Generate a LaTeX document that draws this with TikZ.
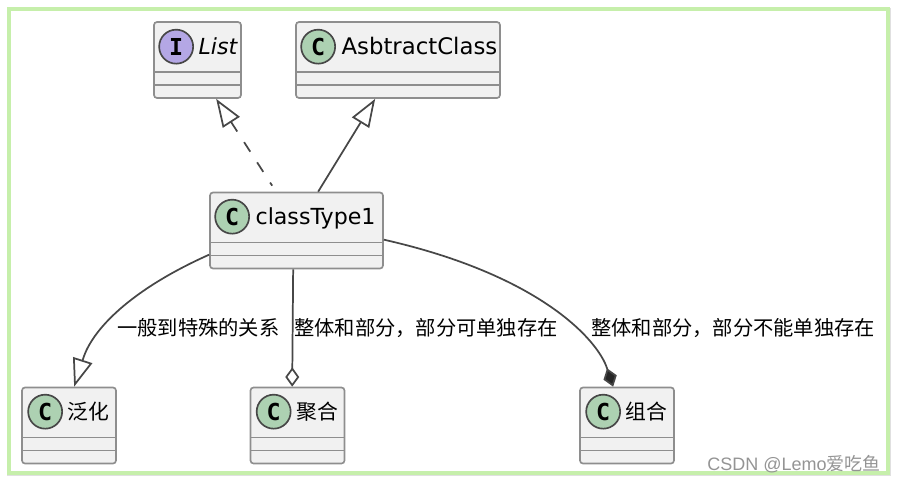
\documentclass[tikz,border=0pt]{standalone}
\usepackage{fontspec}
\setmainfont{DejaVu Sans}
\setmonofont{DejaVu Sans Mono}
\newfontfamily\cjk{Noto Sans CJK SC}
\usetikzlibrary{arrows.meta,calc,positioning}

\definecolor{boxfill}{HTML}{F1F1F1}
\definecolor{boxline}{HTML}{8E8E8E}
\definecolor{wireline}{HTML}{474747}
\definecolor{classhead}{HTML}{ADD1B2}
\definecolor{ifacehead}{HTML}{B4A7E5}
\definecolor{framegreen}{HTML}{C6EFAB}

\tikzset{
  classbox/.style={draw=boxline, fill=boxfill, line width=1.25pt, rounded corners=2.25pt, inner sep=0pt, minimum height=57pt,
    path picture={
      \draw[boxline, line width=1.25pt] ($(path picture bounding box.north west)+(0,50)$) -- ($(path picture bounding box.north east)+(0,50)$);
      \draw[boxline, line width=1.25pt] ($(path picture bounding box.north west)+(0,63)$) -- ($(path picture bounding box.north east)+(0,63)$);
    }},
  headc/.style={circle, draw=wireline, fill=classhead, line width=1.25pt, minimum size=25.5pt, inner sep=0pt, font=\fontsize{17.5}{17.5}\selectfont\ttfamily\bfseries},
  headi/.style={headc, fill=ifacehead},
  classname/.style={inner sep=0pt, text height=15.6pt, text depth=3.6pt, font=\fontsize{16.6}{20}\selectfont},
  cjkname/.style={inner sep=0pt, font=\fontsize{15.6}{20}\selectfont\cjk},
  wirelabel/.style={inner sep=0pt, anchor=west, font=\fontsize{15.2}{18}\selectfont\cjk},
  wire/.style={draw=wireline, line width=1.3pt},
  realizes/.style={wire, dash pattern=on 8.5pt off 9.5pt, {Triangle[open, fill=white, length=21pt, width=15pt]}-},
  extends/.style={wire, {Triangle[open, fill=white, length=21pt, width=15pt]}-},
  aggregates/.style={wire, {Diamond[open, fill=white, length=14.5pt, width=10.5pt]}-},
  composes/.style={wire, {Diamond[fill=black!85, length=14.5pt, width=10.5pt]}-}
}

\begin{document}
\begin{tikzpicture}[x=0.75pt, y=-0.75pt]
  \useasboundingbox (0,0) rectangle (897,483);
  \draw[black!12, line width=1.5pt] (8,9) rectangle (890,475);
  \draw[framegreen, line width=3pt] (9,9) rectangle (888,473);

  % upper row
  \node (list) [classbox, minimum width=65.25pt] at (197.5,60) {};
  \node (listhead) [headi] at ($(list.north west)+(23,25.5)$) {I};
  \node (listname) [classname, right=3.2pt of listhead, font=\fontsize{16.6}{20}\selectfont\itshape] {List};
  \node (abstract) [classbox, minimum width=153pt] at (398,60) {};
  \node (abstracthead) [headc] at ($(abstract.north west)+(23,25.5)$) {C};
  \node (abstractname) [classname, right=4pt of abstracthead, font=\fontsize{17.1}{20}\selectfont] {AsbtractClass};

  % middle class
  \node (type) [classbox, minimum width=129.75pt] at (296.5,230.5) {};
  \node (typehead) [headc] at ($(type.north west)+(23,25)$) {C};
  \node (typename) [classname, right=4pt of typehead] {classType1};

  % lower row
  \node (general) [classbox, minimum width=70.5pt] at (69,425.5) {};
  \node (generalhead) [headc] at ($(general.north west)+(24,25)$) {C};
  \node (generalname) [cjkname, right=3.5pt of generalhead] {泛化};
  \node (aggr) [classbox, minimum width=70.5pt] at (297.5,425.5) {};
  \node (aggrhead) [headc] at ($(aggr.north west)+(24,25)$) {C};
  \node (aggrname) [cjkname, right=3.5pt of aggrhead] {聚合};
  \node (comp) [classbox, minimum width=70.5pt] at (627,425.5) {};
  \node (comphead) [headc] at ($(comp.north west)+(24,25)$) {C};
  \node (compname) [cjkname, right=3.5pt of comphead] {组合};

  % connectors, the tip sits on the first point
  \coordinate (typedash) at ($(type.north west)+(63,-6)$);
  \draw[realizes] ($(list.south west)+(63,0)$) -- (typedash);
  \draw[extends] ($(abstract.south west)+(80,0)$) -- ($(type.north west)+(109,0)$);
  \draw[extends] ($(general.north west)+(53,0)$) -- ++(9,-28) .. controls (92,330) and (130,290) .. ($(type.north west)+(0,63)$);
  \draw[aggregates] ($(aggr.north west)+(42.5,0)$) -- ($(type.south west)+(84,0)$);
  \draw[composes] ($(comp.north west)+(34,0)$) -- ++(-6,-18) .. controls (598,340) and (540,275) .. ($(type.north east)+(0,48)$);

  \node (genlabel) [wirelabel] at (117,328) {一般到特殊的关系};
  \node (aggrlabel) [wirelabel] at (294,328) {整体和部分，部分可单独存在};
  \node (complabel) [wirelabel] at (591,328) {整体和部分，部分不能单独存在};

  \node (mark) [inner sep=0pt, anchor=east, text=black!42, font=\fontsize{13.5}{16}\fontspec{Liberation Sans}] at (881,464) {CSDN @Lemo{\cjk 爱吃鱼}};
\end{tikzpicture}
\end{document}
